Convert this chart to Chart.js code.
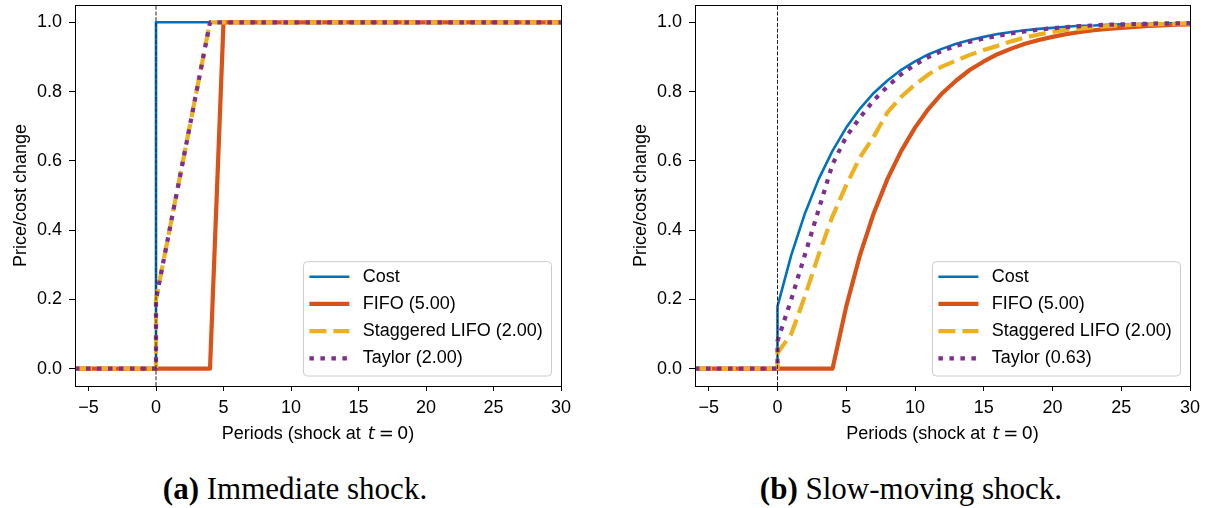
<!DOCTYPE html>
<html>
<head>
<meta charset="utf-8">
<script src="https://cdn.jsdelivr.net/npm/chart.js@4/dist/chart.umd.min.js"></script>
<style>
  body { margin:0; background:#fff; width:1219px; height:508px; position:relative; overflow:hidden; }
  canvas { position:absolute; top:0; }
  .cap { position:absolute; top:473px; font-family:"Liberation Serif","Times New Roman",serif; font-size:31px; line-height:31px; text-align:center; color:#000; }
</style>
</head>
<body>
<canvas id="chartA" width="600" height="445" style="left:0px"></canvas>
<canvas id="chartB" width="599" height="445" style="left:620px"></canvas>
<div class="cap" style="left:0px;width:590px"><b>(a)</b> Immediate shock.</div>
<div class="cap" style="left:620px;width:582px"><b>(b)</b> Slow-moving shock.</div>
<script>
// time axis, t = 0 appears twice so the jump at the shock is vertical
var periods = [-6,-5,-4,-3,-2,-1,0,0,1,2,3,4,5,6,7,8,9,10,11,12,13,14,15,16,17,18,19,20,21,22,23,24,25,26,27,28,29,30];
var xTicks = [-5,0,5,10,15,20,25,30];
var yTicks = [0,0.2,0.4,0.6,0.8,1.0];

// (a) immediate shock
var costA   = [0,0,0,0,0,0,0,1,1,1,1,1,1,1,1,1,1,1,1,1,1,1,1,1,1,1,1,1,1,1,1,1,1,1,1,1,1,1];
var fifoA   = [0,0,0,0,0,0,0,0,0,0,0,0,1,1,1,1,1,1,1,1,1,1,1,1,1,1,1,1,1,1,1,1,1,1,1,1,1,1];
var lifoA   = [0,0,0,0,0,0,0,0.2,0.4,0.6,0.8,1,1,1,1,1,1,1,1,1,1,1,1,1,1,1,1,1,1,1,1,1,1,1,1,1,1,1];
var taylorA = [0,0,0,0,0,0,0,0.2,0.4,0.6,0.8,1,1,1,1,1,1,1,1,1,1,1,1,1,1,1,1,1,1,1,1,1,1,1,1,1,1,1];
var labelsA = ['Cost','FIFO (5.00)','Staggered LIFO (2.00)','Taylor (2.00)'];

// (b) slow-moving shock
var costB   = [0,0,0,0,0,0,0,0.18,0.328,0.449,0.548,0.629,0.696,0.751,0.796,0.832,0.863,0.887,0.908,0.924,0.938,0.949,0.958,0.966,0.972,0.977,0.981,0.984,0.987,0.99,0.991,0.993,0.994,0.995,0.996,0.997,0.997,0.998];
var fifoB   = [0,0,0,0,0,0,0,0,0,0,0,0,0.18,0.328,0.449,0.548,0.629,0.696,0.751,0.796,0.832,0.863,0.887,0.908,0.924,0.938,0.949,0.958,0.966,0.972,0.977,0.981,0.984,0.987,0.99,0.991,0.993,0.994];
var lifoB   = [0,0,0,0,0,0,0,0.045,0.1,0.21,0.33,0.44,0.53,0.61,0.67,0.74,0.785,0.82,0.85,0.873,0.89,0.906,0.92,0.932,0.945,0.956,0.965,0.972,0.978,0.982,0.986,0.989,0.991,0.993,0.994,0.995,0.996,0.997];
var taylorB = [0,0,0,0,0,0,0,0.08,0.2,0.33,0.46,0.59,0.67,0.725,0.775,0.815,0.85,0.878,0.9,0.918,0.932,0.944,0.953,0.961,0.968,0.974,0.979,0.983,0.986,0.989,0.991,0.993,0.994,0.995,0.996,0.997,0.997,0.998];
var labelsB = ['Cost','FIFO (5.00)','Staggered LIFO (2.00)','Taylor (0.63)'];

var FONT = '"Liberation Sans", Arial, sans-serif';
var MATH = '"DejaVu Sans", sans-serif';
Chart.defaults.font.family = FONT;
Chart.defaults.font.size = 18;
Chart.defaults.color = '#000';

function pts(vals) {
  return periods.map(function(t, i) { return {x: t, y: vals[i]}; });
}

// black box round the plot
var frame = {
  id: 'frame',
  afterDatasetsDraw: function(chart) {
    var a = chart.chartArea, ctx = chart.ctx;
    ctx.save();
    ctx.strokeStyle = '#000';
    ctx.lineWidth = 1;
    ctx.strokeRect(Math.round(a.left) + 0.5, Math.round(a.top) + 0.5, Math.round(a.right - a.left), Math.round(a.bottom - a.top));
    ctx.restore();
  }
};

// legend inside the axes, lower right, like matplotlib
var boxLegend = {
  id: 'boxLegend',
  afterDraw: function(chart) {
    var ctx = chart.ctx, a = chart.chartArea;
    var sets = chart.data.datasets.filter(function(d) { return !d.noLegend; });
    ctx.save();
    ctx.font = '18px ' + FONT;
    var maxW = 0;
    sets.forEach(function(d) { maxW = Math.max(maxW, ctx.measureText(d.label).width); });
    var w = maxW + 68, rowH = 27.2, h = 15 + 3 * rowH + 17.7;
    var x0 = a.right - 9.5 - w, y0 = a.bottom - 10 - h;
    ctx.beginPath();
    ctx.roundRect(x0, y0, w, h, 4);
    ctx.fillStyle = 'rgba(255,255,255,0.8)';
    ctx.fill();
    ctx.strokeStyle = '#cccccc';
    ctx.lineWidth = 1;
    ctx.stroke();
    sets.forEach(function(d, i) {
      var y = y0 + 15 + i * rowH;
      ctx.beginPath();
      ctx.moveTo(x0 + 6, y);
      ctx.lineTo(x0 + 46, y);
      ctx.strokeStyle = d.borderColor;
      ctx.lineWidth = d.borderWidth;
      ctx.setLineDash(d.borderDash || []);
      ctx.stroke();
      ctx.setLineDash([]);
      ctx.fillStyle = '#000';
      ctx.textBaseline = 'middle';
      ctx.fillText(d.label, x0 + 59.3, y);
    });
    ctx.restore();
  }
};

// x label with italic t (mathtext style)
var xTitle = {
  id: 'xTitle',
  afterDraw: function(chart) {
    var ctx = chart.ctx, a = chart.chartArea;
    var parts = [
      ['Periods (shock at ', '18px ' + FONT, 2],
      ['t', 'italic 18px ' + MATH, 4],
      ['=', '18px ' + MATH, 3],
      ['0', '18px ' + MATH, 0],
      [')', '18px ' + FONT, 0]
    ];
    ctx.save();
    var total = 0;
    parts.forEach(function(p) { ctx.font = p[1]; total += ctx.measureText(p[0]).width + p[2]; });
    var x = (a.left + a.right) / 2 - total / 2;
    ctx.fillStyle = '#000';
    ctx.textBaseline = 'alphabetic';
    parts.forEach(function(p) {
      ctx.font = p[1];
      ctx.fillText(p[0], x, 439);
      x += ctx.measureText(p[0]).width + p[2];
    });
    ctx.restore();
  }
};

function makeChart(id, vals, labels, rightPad) {
  var styles = [
    {color: '#0072BD', width: 2.6, dash: []},
    {color: '#D95319', width: 4.2, dash: []},
    {color: '#EDB120', width: 4.2, dash: [17, 7]},
    {color: '#7E2F8E', width: 4.2, dash: [4.5, 6.5]}
  ];
  var datasets = vals.map(function(v, i) {
    return {
      label: labels[i],
      data: pts(v),
      borderColor: styles[i].color,
      borderWidth: styles[i].width,
      borderDash: styles[i].dash,
      borderJoinStyle: 'round',
      pointRadius: 0,
      fill: false,
      tension: 0,
      order: 4 - i
    };
  });
  // dashed marker of the shock
  datasets.push({
    label: 'shock', noLegend: true,
    data: [{x: 0, y: -0.05}, {x: 0, y: 1.05}],
    borderColor: '#222', borderWidth: 1, borderDash: [4, 1.7],
    pointRadius: 0, order: 0
  });

  return new Chart(document.getElementById(id), {
    type: 'line',
    data: {datasets: datasets},
    options: {
      responsive: false,
      animation: false,
      layout: {padding: {top: 5, right: rightPad, left: 0, bottom: 0}},
      plugins: {legend: {display: false}, tooltip: {enabled: false}},
      scales: {
        x: {
          type: 'linear', min: -6, max: 30,
          afterBuildTicks: function(s) { s.ticks = xTicks.map(function(v) { return {value: v}; }); },
          afterFit: function(s) { s.height = 59; s.paddingLeft = 0; s.paddingRight = 0; },
          ticks: {
            padding: 6, maxRotation: 0,
            callback: function(v) { return v < 0 ? '\u2212' + (-v) : String(v); }
          },
          grid: {drawOnChartArea: false, color: '#000', tickLength: 5, tickWidth: 1},
          border: {color: '#000', width: 1}
        },
        y: {
          type: 'linear', min: -0.05, max: 1.05,
          afterBuildTicks: function(s) { s.ticks = yTicks.map(function(v) { return {value: v}; }); },
          afterFit: function(s) { s.width = 75; s.paddingTop = 0; s.paddingBottom = 0; },
          ticks: {padding: 7, callback: function(v) { return v.toFixed(1); }},
          grid: {drawOnChartArea: false, color: '#000', tickLength: 6, tickWidth: 1},
          border: {color: '#000', width: 1},
          title: {display: true, text: 'Price/cost change', padding: {top: 10, bottom: 0}, font: {size: 18}}
        }
      }
    },
    plugins: [frame, boxLegend, xTitle]
  });
}

makeChart('chartA', [costA, fifoA, lifoA, taylorA], labelsA, 39);
makeChart('chartB', [costB, fifoB, lifoB, taylorB], labelsB, 29);
</script>
</body>
</html>
